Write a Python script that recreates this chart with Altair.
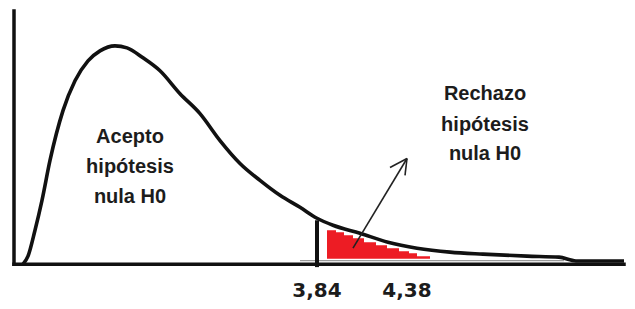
import altair as alt
import pandas as pd

# --- values (schematic units) ---
curve_x = [9, 14, 21, 28, 36, 49, 61, 74, 86, 101, 113, 129, 146, 166, 186, 206, 226, 246,
           266, 286, 303, 319, 346, 374, 403, 436, 469, 513, 545, 562, 610]
curve_y = [0, 8, 34, 64, 104, 154, 184, 204, 214, 219, 217, 207, 194, 171, 151, 124, 101, 84,
           69, 57, 46, 39, 31, 22, 16, 12, 10, 8, 7, 3.2, 3.2]

red_x = [313, 322, 330, 339, 350, 362, 373, 385, 395, 403, 416]
red_top = [34, 32, 29, 26, 22, 19, 16, 13, 11, 8, 8]
red_bottom = 5.5

critical_x = 303          # 3,84
critical_top = 44
tick_x = [303, 393]
tick_labels = ["3,84", "4,38"]

accept_lines = ["Acepto", "hipótesis", "nula H0"]
reject_lines = ["Rechazo", "hipótesis", "nula H0"]

arrow_from = (339, 16)
arrow_to = (393, 106)
arrow_barbs = [(376, 97), (391, 89)]

X_DOMAIN = [-6, 613]
Y_DOMAIN = [-37, 256]

xs = alt.Scale(domain=X_DOMAIN, nice=False, zero=False)
ys = alt.Scale(domain=Y_DOMAIN, nice=False, zero=False)

def X(f):
    return alt.X(f, type="quantitative", scale=xs, axis=None)

def Y(f):
    return alt.Y(f, type="quantitative", scale=ys, axis=None)

curve_df = pd.DataFrame({"x": curve_x, "y": curve_y})
red_df = pd.DataFrame({"x": red_x, "y": red_top, "y2": [red_bottom] * len(red_x)})

axes_df = pd.DataFrame({
    "x": [0, 0], "x2": [610, 0], "y": [0, 0], "y2": [0, 254]
})
gray_df = pd.DataFrame({"x": [286], "x2": [550], "y": [3.5], "y2": [3.5]})
vline_df = pd.DataFrame({"x": [critical_x], "x2": [critical_x], "y": [-3], "y2": [critical_top]})

arrow_df = pd.DataFrame({
    "x": [arrow_from[0], arrow_to[0], arrow_to[0]],
    "y": [arrow_from[1], arrow_to[1], arrow_to[1]],
    "x2": [arrow_to[0], arrow_barbs[0][0], arrow_barbs[1][0]],
    "y2": [arrow_to[1], arrow_barbs[0][1], arrow_barbs[1][1]],
})

accept_df = pd.DataFrame({"t": accept_lines, "x": [116] * 3, "y": [122, 91, 61]})
reject_df = pd.DataFrame({"t": reject_lines, "x": [471] * 3, "y": [165, 134, 104]})
tick_df = pd.DataFrame({"t": tick_labels, "x": tick_x, "y": [-33, -33]})

red = alt.Chart(red_df).mark_area(color="#ED1C24", interpolate="step-after").encode(
    x=X("x"), y=Y("y"), y2="y2")

gray = alt.Chart(gray_df).mark_rule(color="#9a9a9a", strokeWidth=1.2).encode(
    x=X("x"), x2="x2", y=Y("y"), y2="y2")

axes = alt.Chart(axes_df).mark_rule(color="#111", strokeWidth=3.5, strokeCap="square").encode(
    x=X("x"), x2="x2", y=Y("y"), y2="y2")

curve = alt.Chart(curve_df).mark_line(color="#111", strokeWidth=3.6, interpolate="monotone",
                                      strokeJoin="round", strokeCap="butt").encode(
    x=X("x"), y=Y("y"))

vline = alt.Chart(vline_df).mark_rule(color="#111", strokeWidth=4).encode(
    x=X("x"), x2="x2", y=Y("y"), y2="y2")

arrow = alt.Chart(arrow_df).mark_rule(color="#222", strokeWidth=1.6).encode(
    x=X("x"), x2="x2", y=Y("y"), y2="y2")

txt_style = dict(font="Liberation Sans", fontSize=20, fontWeight="bold", color="#1c1c1c",
                 align="center", baseline="alphabetic")

accept = alt.Chart(accept_df).mark_text(**txt_style).encode(x=X("x"), y=Y("y"), text="t")
reject = alt.Chart(reject_df).mark_text(**txt_style).encode(x=X("x"), y=Y("y"), text="t")
ticks = alt.Chart(tick_df).mark_text(font="DejaVu Sans", fontSize=20, fontWeight="bold",
                                     color="#1c1c1c", align="center", baseline="alphabetic").encode(
    x=X("x"), y=Y("y"), text="t")

chart = alt.layer(red, gray, axes, curve, vline, arrow, accept, reject, ticks).properties(
    width=619, height=293,
    autosize=alt.AutoSizeParams(type="fit", contains="padding"),
    padding=0,
    background="white",
).configure_view(stroke=None)

chart.save("out.html", embed_options={"renderer": "svg", "actions": False})
